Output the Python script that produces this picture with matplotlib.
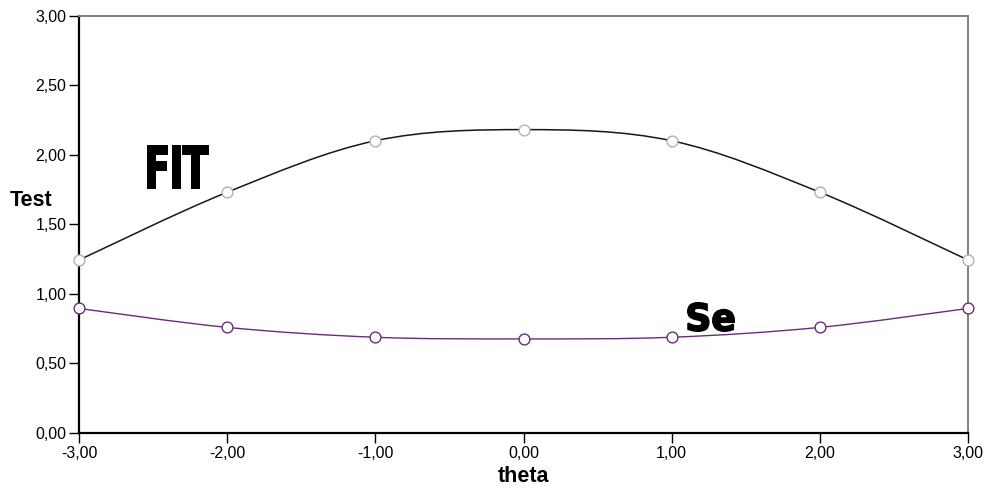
import numpy as np
import matplotlib.pyplot as plt
import matplotlib as mpl
from matplotlib.path import Path
from matplotlib.patches import PathPatch
from matplotlib.textpath import TextPath
from matplotlib.font_manager import FontProperties
from matplotlib.transforms import Affine2D
from matplotlib.ticker import FuncFormatter

theta = [-3, -2, -1, 0, 1, 2, 3]
fit_values = [1.243, 1.73, 2.10, 2.18, 2.10, 1.73, 1.243]
se_values = [0.895, 0.759, 0.688, 0.676, 0.688, 0.759, 0.895]

x_ticks = [-3, -2, -1, 0, 1, 2, 3]
y_ticks = [0, 0.5, 1.0, 1.5, 2.0, 2.5, 3.0]

W, H = 985, 492

mpl.rcParams.update({
    "font.family": ["Liberation Sans", "DejaVu Sans"],
    "figure.dpi": 100,
})


def smooth_path(xs, ys):
    # catmull-rom style bezier through the points
    xs = np.asarray(xs, float)
    ys = np.asarray(ys, float)
    n = len(xs)
    verts = [(xs[0], ys[0])]
    codes = [Path.MOVETO]
    for i in range(n - 1):
        i0 = max(i - 1, 0)
        i3 = min(i + 2, n - 1)
        c1 = (xs[i] + (xs[i + 1] - xs[i0]) / 6, ys[i] + (ys[i + 1] - ys[i0]) / 6)
        c2 = (xs[i + 1] - (xs[i3] - xs[i]) / 6, ys[i + 1] - (ys[i3] - ys[i]) / 6)
        verts += [c1, c2, (xs[i + 1], ys[i + 1])]
        codes += [Path.CURVE4] * 3
    return Path(verts, codes)


def heavy_label(fig, text, box, stroke=1.5):
    # squeeze a bold text path into a pixel box (left, top, right, bottom)
    tp = TextPath((0, 0), text, size=100,
                  prop=FontProperties(family="DejaVu Sans", weight="bold"))
    ext = tp.get_extents()
    l, t, r, b = box
    pad = stroke / 2
    sx = (r - l - 2 * pad) / ext.width
    sy = (b - t - 2 * pad) / ext.height
    tr = (Affine2D().translate(-ext.x0, -ext.y0).scale(sx, sy)
          .translate(l + pad, H - b + pad).scale(1 / fig.dpi))
    fig.add_artist(PathPatch(tp, facecolor="black", edgecolor="black",
                             lw=stroke * 72 / fig.dpi,
                             transform=tr + fig.dpi_scale_trans))


fig = plt.figure(figsize=(W / 100, H / 100))
ax = fig.add_axes([79 / W, 1 - 433 / H, (968 - 79) / W, (433 - 15.5) / H])

ax.add_patch(PathPatch(smooth_path(theta, fit_values), fill=False,
                       edgecolor="#151525", lw=1.1, zorder=2))
ax.add_patch(PathPatch(smooth_path(theta, se_values), fill=False,
                       edgecolor="#6a2c78", lw=1.0, zorder=2))
ax.plot(theta, fit_values, ls="none", marker="o", ms=7.8, mfc="white",
        mec="#b4b4a0", mew=1.0, zorder=3, clip_on=False)
ax.plot(theta, se_values, ls="none", marker="o", ms=7.8, mfc="white",
        mec="#6a2c78", mew=1.0, zorder=3, clip_on=False)

ax.set_xlim(-3, 3)
ax.set_ylim(0, 3)
ax.set_xticks(x_ticks)
ax.set_yticks(y_ticks)
fmt = FuncFormatter(lambda v, p: f"{v:.2f}".replace(".", ","))
ax.xaxis.set_major_formatter(fmt)
ax.yaxis.set_major_formatter(fmt)
ax.tick_params(axis="both", direction="out", length=7, width=1.0,
               labelsize=11.5, colors="black", pad=2)

for side in ("left", "bottom"):
    ax.spines[side].set_color("black")
    ax.spines[side].set_linewidth(1.6)
for side in ("top", "right"):
    ax.spines[side].set_color("#808080")
    ax.spines[side].set_linewidth(1.4)

ax.set_xlabel("theta", fontsize=15.5, fontweight="bold", labelpad=4)
fig.text(10 / W, 1 - 200 / H, "Test", fontsize=15.5, fontweight="bold",
         ha="left", va="center")

heavy_label(fig, "FIT", (147, 145, 209, 189), stroke=2.0)
heavy_label(fig, "Se", (687, 302, 735, 332), stroke=1.8)

fig.savefig("out.png", dpi=100, facecolor="white")
